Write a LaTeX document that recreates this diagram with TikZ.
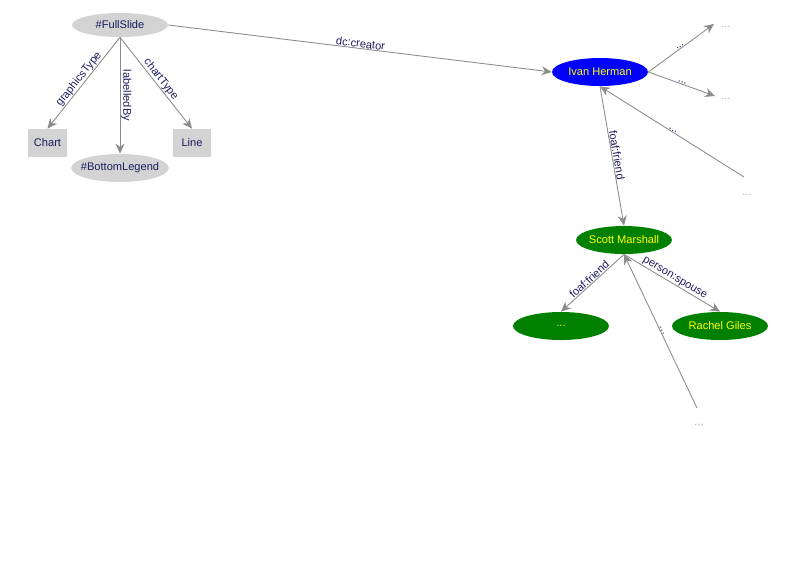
\documentclass[tikz,border=0pt]{standalone}
\usepackage{fontspec}
\setmainfont{Liberation Sans}
\usepackage{xcolor}
\usepackage{tikz}
\usetikzlibrary{arrows.meta,shapes.geometric}
\definecolor{ink}{HTML}{1B1B5E}
\definecolor{linkgray}{HTML}{8C8C8C}
\definecolor{pale}{HTML}{D3D3D3}
\definecolor{dim}{HTML}{A8A8A8}
\definecolor{blue}{HTML}{0000FF}
\definecolor{green}{HTML}{008000}
\definecolor{yellow}{HTML}{FFFF00}
\tikzset{
  link/.style={draw=linkgray, line width=0.5pt, -{Stealth[length=2mm, width=1.8mm]}},
  rel/.style={text=ink, font=\fontsize{6.3}{7}\selectfont, sloped, above, inner sep=0.3pt, midway},
  res/.style={ellipse, fill=pale, text=ink, minimum width=19.2mm, minimum height=5.6mm, inner xsep=-2.6pt, inner ysep=0pt, font=\fontsize{6.3}{7}\selectfont},
  lit/.style={rectangle, fill=pale, text=ink, minimum width=7.6mm, minimum height=5.6mm, inner sep=0pt, font=\fontsize{6.3}{7}\selectfont},
  person/.style={ellipse, fill=blue, text=yellow, minimum width=19.2mm, minimum height=5.6mm, inner xsep=-2.6pt, inner ysep=0pt, font=\fontsize{6.3}{7}\selectfont},
  friend/.style={person, fill=green},
  more/.style={text=dim, font=\fontsize{6.3}{7}\selectfont, inner sep=0pt}
}
\begin{document}
\begin{tikzpicture}[x=0.2mm, y=-0.2mm]
  \useasboundingbox (0,0) rectangle (800,560);

  % slide
  \node[res, minimum height=4.8mm] (full) at (120,25) {\#FullSlide};
  \node[lit] (chart) at (47.5,143) {Chart};
  \node[res] (legend) at (120,168) {\#BottomLegend};
  \node[lit] (line) at (192,143) {Line};

  % people
  \node[person] (ivan) at (600,72) {Ivan Herman};
  \node[friend] (scott) at (624,240) {Scott Marshall};
  \node[friend] (anon) at (561,326) {...};
  \node[friend] (rachel) at (720,326) {Rachel Giles};

  % loose ends
  \coordinate (o1) at (714,24);
  \coordinate (o2) at (715,96);
  \coordinate (i1) at (744,177);
  \coordinate (i2) at (697,408);
  \node[more] (m1) at (726,27) {...};
  \node[more] (m2) at (726,99) {...};
  \node[more] (m3) at (747,195) {...};
  \node[more] (m4) at (699,425) {...};

  \draw[link] (full.south) -- (chart.north) node[rel] {graphicsType};
  \draw[link] (full.south) -- (legend.north) node[rel] {labelledBy};
  \draw[link] (full.south) -- (line.north) node[rel] {chartType};
  \draw[link] (full.east) -- (ivan.west) node[rel] {dc:creator};

  \draw[link] (ivan.east) -- (o1) node[rel] {...};
  \draw[link] (ivan.east) -- (o2) node[rel] {...};
  \draw[link] (i1) -- (ivan.south) node[rel] {...};
  \draw[link] (ivan.south) -- (scott.north) node[rel] {foaf:friend};

  \draw[link] (scott.south) -- (anon.north) node[rel] {foaf:friend};
  \draw[link] (scott.south) -- (rachel.north) node[rel] {person:spouse};
  \draw[link] (i2) -- (scott.south) node[rel] {...};
\end{tikzpicture}
\end{document}
